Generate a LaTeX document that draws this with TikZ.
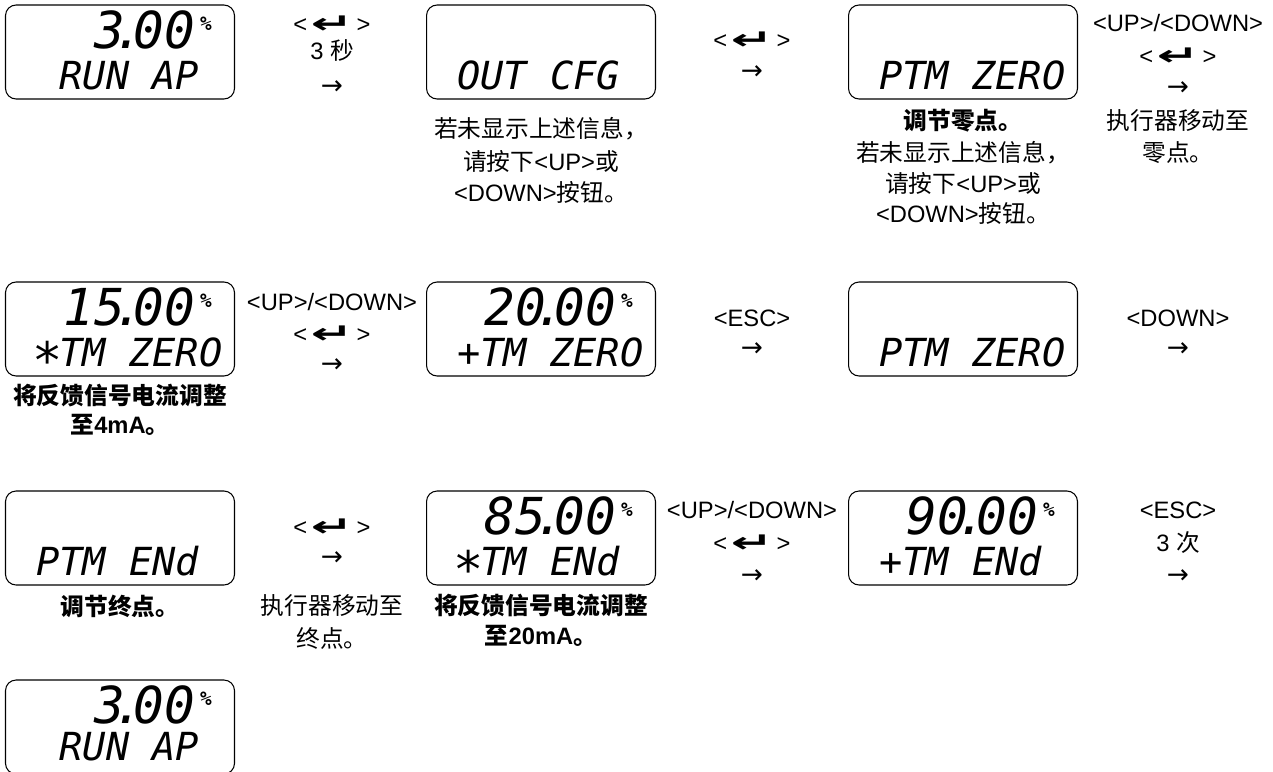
\documentclass[tikz,border=0pt]{standalone}
\usepackage{fontspec}
\setmainfont{Liberation Sans}
\newfontfamily\cjk{Noto Sans CJK SC}
\newfontfamily\lcd{DejaVu Sans Mono}
\newfontfamily\dejavu{DejaVu Sans}
\usepackage{graphicx}
\usepackage{tikz}
\usetikzlibrary{calc}

\newcommand{\enterkey}{<\kern2pt\raisebox{-1pt}{\scalebox{1.8}[1]{\dejavu\bfseries\fontsize{16}{16}\selectfont ↵}}\kern2pt>}
\newcommand{\nextarrow}{{\dejavu\fontsize{15}{15}\selectfont →}}
\newcommand{\lcddot}{\kern-.22em.\kern-.22em}
\newcommand{\lcdpct}{\kern3pt\raisebox{10pt}{\fontsize{11}{11}\selectfont\bfseries\%}}
\newcommand{\lcdstar}{\makebox[.6em]{\smash{\raisebox{-.3em}{\scalebox{1.3}{*}}}}}

\begin{document}
\begin{tikzpicture}[x=0.02cm, y=-0.02cm,
    lcd/.style={draw, line width=0.6pt, rounded corners=6pt, minimum width=4.58cm, minimum height=1.88cm, inner sep=0pt},
    lcdhi/.style={font=\lcd\itshape\fontsize{29}{29}\selectfont, inner sep=0pt, anchor=base east},
    lcdlo/.style={font=\lcd\itshape\fontsize{22}{22}\selectfont, inner sep=0pt, anchor=base west},
    lbl/.style={font=\fontsize{13.5}{18}\selectfont, inner sep=0pt},
    note/.style={font=\fontsize{13.5}{18}\selectfont\bfseries, inner sep=0pt}]
    \useasboundingbox (0,0) rectangle (1273,771);

    % Row 1
    \node[lcd] (a1) at (120,52) {};
    \node[lcdhi] (a1u) at ($(a1.north east)+(-23,44)$) {3\lcddot00\lcdpct};
    \node[lcdlo] (a1d) at ($(a1.north west)+(31,85)$) {\ RUN AP};
    \node[lbl] (k1a) at (332,25) {\enterkey};
    \node[lbl] (k1b) at (332,50) {3 {\cjk 秒}};
    \node[lbl] (k1c) at (332,88) {\nextarrow};

    \node[lcd] (a2) at (541,52) {};
    \node[lcdlo] (a2d) at ($(a2.north west)+(31,85)$) {OUT CFG};
    \node[lbl] (n2a) at (541,129) {\cjk 若未显示上述信息，};
    \node[lbl] (n2b) at (541,161) {{\cjk 请按下}<UP>{\cjk 或}};
    \node[lbl] (n2c) at (541,192) {<DOWN>{\cjk 按钮。}};
    \node[lbl] (k2a) at (752,41) {\enterkey};
    \node[lbl] (k2b) at (752,73) {\nextarrow};

    \node[lcd] (a3) at (963,52) {};
    \node[lcdlo] (a3d) at ($(a3.north west)+(31,85)$) {PTM ZERO};
    \node[note] (n3a) at (963,121) {\cjk 调节零点。};
    \node[lbl] (n3b) at (963,153) {\cjk 若未显示上述信息，};
    \node[lbl] (n3c) at (963,183) {{\cjk 请按下}<UP>{\cjk 或}};
    \node[lbl] (n3d) at (963,213) {<DOWN>{\cjk 按钮。}};
    \node[lbl] (k3a) at (1178,23) {<UP>/<DOWN>};
    \node[lbl] (k3b) at (1178,57) {\enterkey};
    \node[lbl] (k3c) at (1178,89) {\nextarrow};
    \node[lbl] (n4a) at (1178,121) {\cjk 执行器移动至};
    \node[lbl] (n4b) at (1178,153) {\cjk 零点。};

    % Row 2
    \node[lcd] (b1) at (120,329) {};
    \node[lcdhi] (b1u) at ($(b1.north east)+(-23,44)$) {15\lcddot00\lcdpct};
    \node[lcdlo] (b1d) at ($(b1.north west)+(31,85)$) {\lcdstar TM ZERO};
    \node[note] (n5a) at (120,396) {\cjk 将反馈信号电流调整};
    \node[note] (n5b) at (120,425) {{\cjk 至}4mA{\cjk 。}};
    \node[lbl] (k4a) at (332,302) {<UP>/<DOWN>};
    \node[lbl] (k4b) at (332,335) {\enterkey};
    \node[lbl] (k4c) at (332,366) {\nextarrow};

    \node[lcd] (b2) at (541,329) {};
    \node[lcdhi] (b2u) at ($(b2.north east)+(-23,44)$) {20\lcddot00\lcdpct};
    \node[lcdlo] (b2d) at ($(b2.north west)+(31,85)$) {+TM ZERO};
    \node[lbl] (k5a) at (752,318) {<ESC>};
    \node[lbl] (k5b) at (752,350) {\nextarrow};

    \node[lcd] (b3) at (963,329) {};
    \node[lcdlo] (b3d) at ($(b3.north west)+(31,85)$) {PTM ZERO};
    \node[lbl] (k6a) at (1178,318) {<DOWN>};
    \node[lbl] (k6b) at (1178,350) {\nextarrow};

    % Row 3
    \node[lcd] (c1) at (120,538) {};
    \node[lcdlo] (c1d) at ($(c1.north west)+(31,85)$) {PTM ENd};
    \node[note] (n6a) at (120,606) {\cjk 调节终点。};
    \node[lbl] (k7a) at (332,528) {\enterkey};
    \node[lbl] (k7b) at (332,559) {\nextarrow};
    \node[lbl] (n7a) at (332,606) {\cjk 执行器移动至};
    \node[lbl] (n7b) at (332,638) {\cjk 终点。};

    \node[lcd] (c2) at (541,538) {};
    \node[lcdhi] (c2u) at ($(c2.north east)+(-23,44)$) {85\lcddot00\lcdpct};
    \node[lcdlo] (c2d) at ($(c2.north west)+(31,85)$) {\lcdstar TM ENd};
    \node[note] (n8a) at (541,606) {\cjk 将反馈信号电流调整};
    \node[note] (n8b) at (541,636) {{\cjk 至}20mA{\cjk 。}};
    \node[lbl] (k8a) at (752,510) {<UP>/<DOWN>};
    \node[lbl] (k8b) at (752,544) {\enterkey};
    \node[lbl] (k8c) at (752,577) {\nextarrow};

    \node[lcd] (c3) at (963,538) {};
    \node[lcdhi] (c3u) at ($(c3.north east)+(-23,44)$) {90\lcddot00\lcdpct};
    \node[lcdlo] (c3d) at ($(c3.north west)+(31,85)$) {+TM ENd};
    \node[lbl] (k9a) at (1178,510) {<ESC>};
    \node[lbl] (k9b) at (1178,543) {3 {\cjk 次}};
    \node[lbl] (k9c) at (1178,577) {\nextarrow};

    % Row 4
    \node[lcd] (d1) at (120,727) {};
    \node[lcdhi] (d1u) at ($(d1.north east)+(-23,44)$) {3\lcddot00\lcdpct};
    \node[lcdlo] (d1d) at ($(d1.north west)+(31,81)$) {\ RUN AP};
\end{tikzpicture}
\end{document}
